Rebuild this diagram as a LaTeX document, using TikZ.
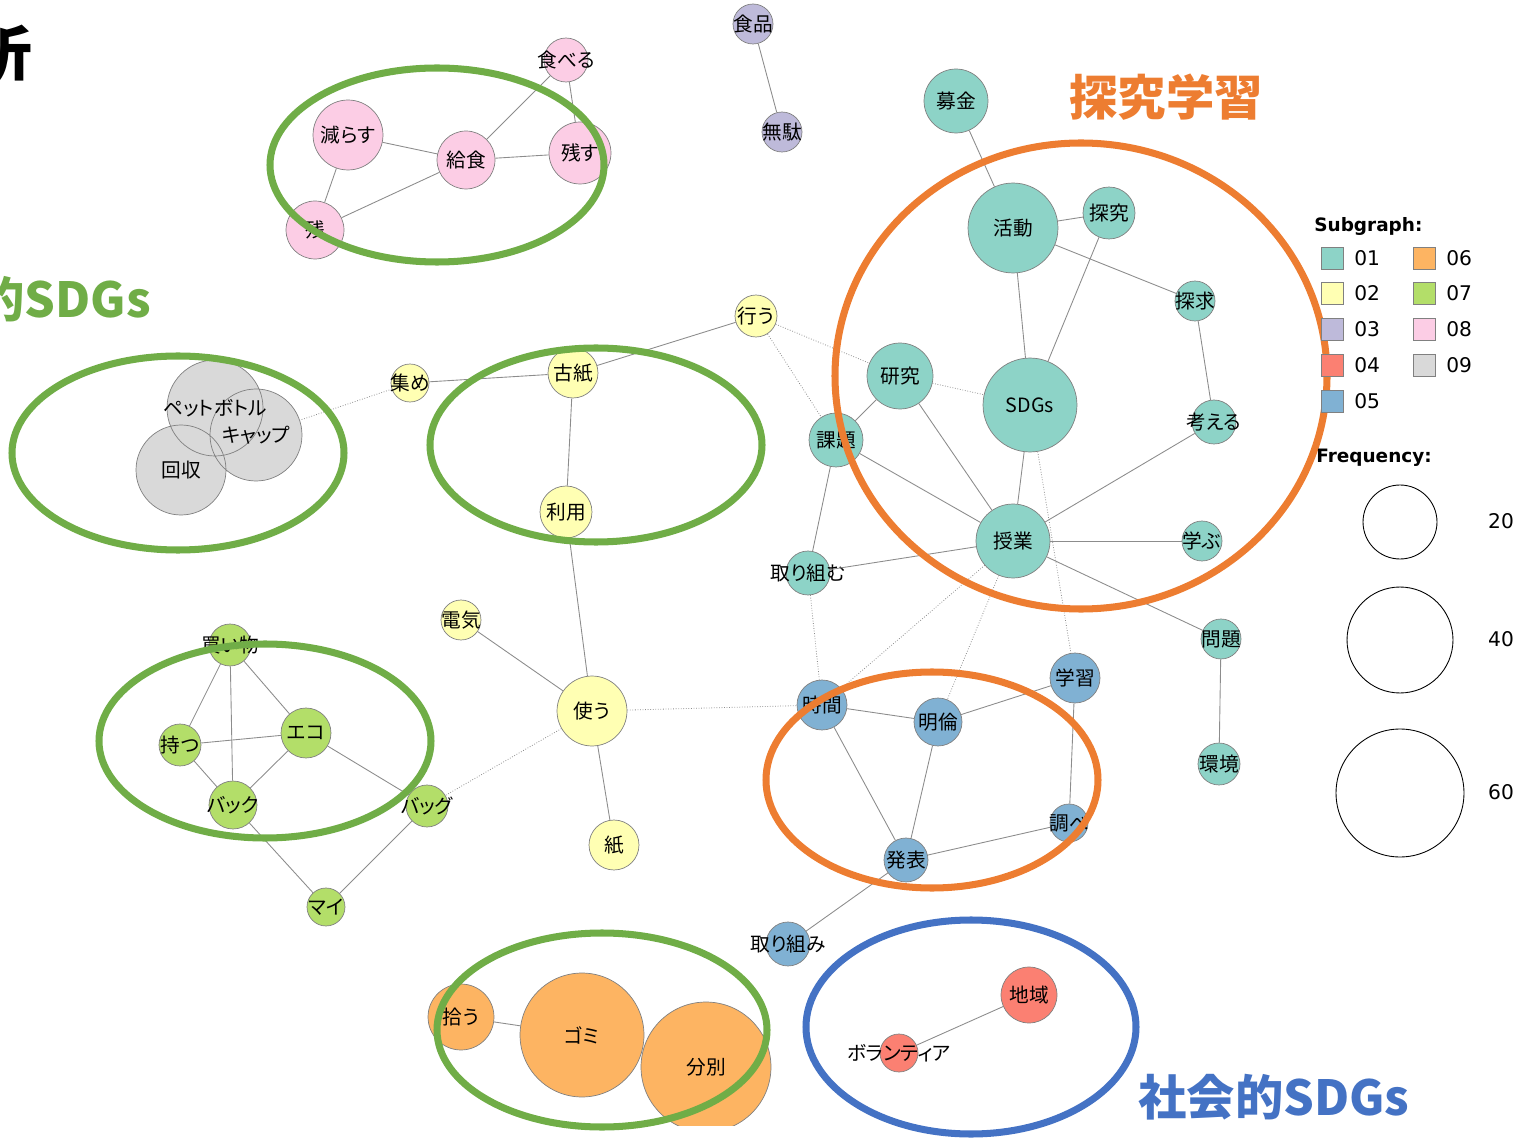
\documentclass[tikz,border=0pt]{standalone}
\usepackage{fontspec}
\setmainfont{Noto Sans CJK JP}
\newfontfamily\jp{Noto Sans CJK JP}[RawFeature={+palt}]
\newfontfamily\legendfont{DejaVu Sans}

\definecolor{s01}{HTML}{8DD3C7}
\definecolor{s02}{HTML}{FFFFB3}
\definecolor{s03}{HTML}{BEBADA}
\definecolor{s04}{HTML}{FB8072}
\definecolor{s05}{HTML}{80B1D3}
\definecolor{s06}{HTML}{FDB462}
\definecolor{s07}{HTML}{B3DE69}
\definecolor{s08}{HTML}{FCCDE5}
\definecolor{s09}{HTML}{D9D9D9}
\definecolor{markgreen}{HTML}{70AD47}
\definecolor{markorange}{HTML}{ED7D31}
\definecolor{markblue}{HTML}{4472C4}

\tikzset{
  word/.style={circle, draw=black!50, line width=0.4pt, inner sep=0pt, minimum size=#1*0.04cm},
  c01/.style={word=#1, fill=s01},
  c02/.style={word=#1, fill=s02},
  c03/.style={word=#1, fill=s03},
  c04/.style={word=#1, fill=s04},
  c05/.style={word=#1, fill=s05},
  c06/.style={word=#1, fill=s06},
  c07/.style={word=#1, fill=s07},
  c08/.style={word=#1, fill=s08},
  c09/.style={word=#1, fill=s09, draw=none},
  link/.style={draw=black!45, line width=0.5pt},
  weak/.style={draw=black!45, line width=0.45pt, densely dotted},
  ring/.style={line width=4pt},
  keybox/.style={draw=black!50, fill=#1, minimum size=0.44cm, inner sep=0pt},
  keytext/.style={anchor=west, inner sep=0pt, font=\legendfont\fontsize{11.5}{13}\selectfont},
  headline/.style={inner sep=0pt, font=\bfseries\fontsize{27.5}{29}\selectfont},
}

\begin{document}
\begin{tikzpicture}[x=0.02cm, y=-0.02cm, font=\jp\fontsize{11.2}{13}\selectfont]
  \useasboundingbox (0,0) rectangle (1522,1138);
  \clip (0,0) rectangle (1522,1138);

  % words
  \begin{scope}
    \clip (0,0) rectangle (1522,1125);
    \node[c08=22, label=center:食べる] (taberu) at (566,60) {};
    \node[c08=35, label=center:減らす] (herasu) at (348,135) {};
    \node[c08=29, label=center:給食] (kyushoku) at (466,160) {};
    \node[c08=31, label=center:残す] (nokosu) at (580,153) {};
    \node[c08=29, label=center:残] (zan) at (315,230) {};

    \node[c03=20, label=center:食品] (shokuhin) at (753,24) {};
    \node[c03=20, label=center:無駄] (muda) at (782,132) {};

    \node[c01=32, label=center:募金] (bokin) at (956,101) {};
    \node[c01=45, label=center:活動] (katsudo) at (1013,228) {};
    \node[c01=26, label=center:探究] (tankyu1) at (1109,213) {};
    \node[c01=20, label=center:探求] (tankyu2) at (1195,301) {};
    \node[c01=33, label=center:研究] (kenkyu) at (900,376) {};
    \node[c01=47, label=center:SDGs] (sdgs) at (1030,405) {};
    \node[c01=22, label=center:考える] (kangaeru) at (1214,422) {};
    \node[c01=27, label=center:課題] (kadai) at (836,440) {};
    \node[c01=37, label=center:授業] (jugyo) at (1013,541) {};
    \node[c01=20, label=center:学ぶ] (manabu) at (1202,541) {};
    \node[c01=22, label=center:取り組む] (torikumu) at (808,573) {};
    \node[c01=20, label=center:問題] (mondai) at (1221,639) {};
    \node[c01=21, label=center:環境] (kankyo) at (1219,764) {};

    \node[c02=21, label=center:行う] (okonau) at (756,316) {};
    \node[c02=19, label=center:集め] (atsume) at (410,383) {};
    \node[c02=25, label=center:古紙] (koshi) at (573,373) {};
    \node[c02=26, label=center:利用] (riyo) at (566,512) {};
    \node[c02=20, label=center:電気] (denki) at (461,620) {};
    \node[c02=35, label=center:使う] (tsukau) at (592,711) {};
    \node[c02=25, label=center:紙] (kami) at (614,845) {};

    \node[c05=25, label=center:時間] (jikan) at (822,705) {};
    \node[c05=24, label=center:明倫] (meirin) at (938,722) {};
    \node[c05=25, label=center:学習] (gakushu) at (1075,678) {};
    \node[c05=19, label=center:調べ] (shirabe) at (1069,823) {};
    \node[c05=22, label=center:発表] (happyo) at (906,860) {};
    \node[c05=22, label=center:取り組み] (torikumi) at (788,944) {};

    \node[c07=21, label=center:買い物] (kaimono) at (230,645) {};
    \node[c07=21, label=center:持つ] (motsu) at (180,745) {};
    \node[c07=25, label=center:エコ] (eco) at (306,733) {};
    \node[c07=24, label=center:バック] (bakku) at (233,805) {};
    \node[c07=21, label=center:バッグ] (baggu) at (427,806) {};
    \node[c07=19, label=center:マイ] (mai) at (326,907) {};

    \node[c06=33, label=center:拾う] (hirou) at (461,1017) {};
    \node[c06=62, label=center:ゴミ] (gomi) at (582,1035) {};
    \node[c06=65, label=center:分別] (bunbetsu) at (706,1067) {};

    \node[c04=28, label=center:地域] (chiiki) at (1029,995) {};
    \node[c04=19, label=center:ボランティア] (volunteer) at (899,1053) {};

    % overlapping trio: fills, rims, then texts
    \node[c09=48] (pet) at (215,408) {};
    \node[c09=46] (cap) at (256,435) {};
    \node[c09=45] (kaishu) at (181,470) {};
    \draw[black!50, line width=0.4pt] (pet.center) circle[radius=48]
      (cap.center) circle[radius=46] (kaishu.center) circle[radius=45];
    \node (pettext) at (pet) {ペットボトル};
    \node (captext) at (cap) {キャップ};
    \node (kaishutext) at (kaishu) {回収};
  \end{scope}

  % co-occurrences
  \begin{scope}[link]
    \draw (herasu) to (kyushoku);
    \draw (kyushoku) to (taberu);
    \draw (kyushoku) to (nokosu);
    \draw (taberu) to (nokosu);
    \draw (herasu) to (zan);
    \draw (kyushoku) to (zan);
    \draw (shokuhin) to (muda);
    \draw (bokin) to (katsudo);
    \draw (katsudo) to (tankyu1);
    \draw (katsudo) to (tankyu2);
    \draw (katsudo) to (sdgs);
    \draw (tankyu1) to (sdgs);
    \draw (tankyu2) to (kangaeru);
    \draw (kenkyu) to (kadai);
    \draw (kenkyu) to (jugyo);
    \draw (kadai) to (jugyo);
    \draw (kadai) to (torikumu);
    \draw (sdgs) to (jugyo);
    \draw (kangaeru) to (jugyo);
    \draw (jugyo) to (manabu);
    \draw (jugyo) to (torikumu);
    \draw (jugyo) to (mondai);
    \draw (mondai) to (kankyo);
    \draw (okonau) to (koshi);
    \draw (atsume) to (koshi);
    \draw (koshi) to (riyo);
    \draw (riyo) to (tsukau);
    \draw (denki) to (tsukau);
    \draw (tsukau) to (kami);
    \draw (jikan) to (meirin);
    \draw (meirin) to (gakushu);
    \draw (jikan) to (happyo);
    \draw (meirin) to (happyo);
    \draw (gakushu) to (shirabe);
    \draw (shirabe) to (happyo);
    \draw (happyo) to (torikumi);
    \draw (kaimono) to (motsu);
    \draw (kaimono) to (bakku);
    \draw (kaimono) to (eco);
    \draw (motsu) to (eco);
    \draw (motsu) to (bakku);
    \draw (eco) to (bakku);
    \draw (eco) to (baggu);
    \draw (bakku) to (mai);
    \draw (baggu) to (mai);
    \draw (hirou) to (gomi);
    \draw (chiiki) to (volunteer);
  \end{scope}
  \begin{scope}[weak]
    \draw (okonau) to (kenkyu);
    \draw (okonau) to (kadai);
    \draw (kenkyu) to (sdgs);
    \draw (sdgs) to (gakushu);
    \draw (jugyo) to (jikan);
    \draw (jugyo) to (meirin);
    \draw (torikumu) to (jikan);
    \draw (tsukau) to (jikan);
    \draw (tsukau) to (baggu);
    \draw (atsume) to (cap);
  \end{scope}

  % hand-drawn marks
  \draw[ring, markgreen] (437,165) ellipse[x radius=167, y radius=97];
  \draw[ring, markgreen] (178,453) ellipse[x radius=166, y radius=97];
  \draw[ring, markgreen] (596,445) ellipse[x radius=166, y radius=97];
  \draw[ring, markgreen] (265,741) ellipse[x radius=166, y radius=97];
  \draw[ring, markgreen] (602,1030) ellipse[x radius=165, y radius=97];
  \draw[ring, markorange] (1081,376) ellipse[x radius=246, y radius=233];
  \draw[ring, markorange] (932,780) ellipse[x radius=166, y radius=108];
  \draw[ring, markblue] (971,1027) ellipse[x radius=165, y radius=107];

  \node[headline, anchor=east, font=\bfseries\fontsize{34}{36}\selectfont] (bunseki) at (33,53) {析};
  \node[headline, anchor=east, text=markgreen] (kankyoSDGs) at (151,299) {的SDGs};
  \node[headline, text=markorange] (tankyuGakushu) at (1166,97) {探究学習};
  \node[headline, text=markblue] (shakaiSDGs) at (1274,1097) {社会的SDGs};

  % legend
  \node[anchor=west, inner sep=0pt, font=\legendfont\bfseries\fontsize{10.5}{12}\selectfont] (subgraph) at (1314,226) {Subgraph:};
  \node[keybox=s01] (k01) at (1332,258) {};
  \node[keybox=s02] (k02) at (1332,293) {};
  \node[keybox=s03] (k03) at (1332,329) {};
  \node[keybox=s04] (k04) at (1332,365) {};
  \node[keybox=s05] (k05) at (1332,401) {};
  \node[keybox=s06] (k06) at (1424,258) {};
  \node[keybox=s07] (k07) at (1424,293) {};
  \node[keybox=s08] (k08) at (1424,329) {};
  \node[keybox=s09] (k09) at (1424,365) {};
  \node[keytext] (t01) at (1354,258) {01};
  \node[keytext] (t02) at (1354,293) {02};
  \node[keytext] (t03) at (1354,329) {03};
  \node[keytext] (t04) at (1354,365) {04};
  \node[keytext] (t05) at (1354,401) {05};
  \node[keytext] (t06) at (1446,258) {06};
  \node[keytext] (t07) at (1446,293) {07};
  \node[keytext] (t08) at (1446,329) {08};
  \node[keytext] (t09) at (1446,365) {09};
  \node[anchor=west, inner sep=0pt, font=\legendfont\bfseries\fontsize{10.5}{12}\selectfont] (frequency) at (1316,458) {Frequency:};
  \node[circle, draw, line width=0.5pt, minimum size=1.48cm] (f20) at (1400,522) {};
  \node[circle, draw, line width=0.5pt, minimum size=2.12cm] (f40) at (1400,640) {};
  \node[circle, draw, line width=0.5pt, minimum size=2.56cm] (f60) at (1400,793) {};
  \node[keytext, anchor=center] (n20) at (1501,521) {20};
  \node[keytext, anchor=center] (n40) at (1501,639) {40};
  \node[keytext, anchor=center] (n60) at (1501,792) {60};
\end{tikzpicture}
\end{document}
